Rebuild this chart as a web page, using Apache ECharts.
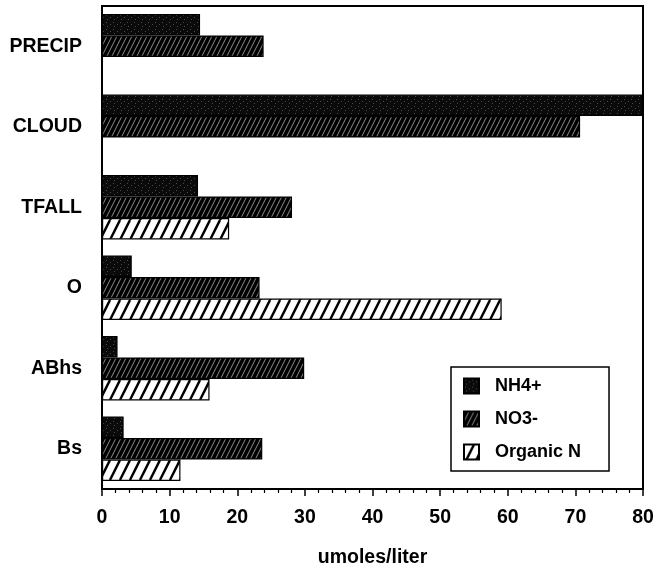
<!DOCTYPE html>
<html>
<head>
<meta charset="utf-8">
<script src="https://cdn.jsdelivr.net/npm/echarts@6/dist/echarts.min.js"></script>
<style>
html,body{margin:0;padding:0;background:#fff;}
#chart{width:661px;height:575px;}
</style>
</head>
<body>
<div id="chart"></div>
<script>
// ---- data ----
var categories = ['PRECIP', 'CLOUD', 'TFALL', 'O', 'ABhs', 'Bs'];
var seriesNames = ['NH4+', 'NO3-', 'Organic N'];
var nh4 = [14.5, 80, 14.2, 4.4, 2.3, 3.2];
var no3 = [23.9, 70.7, 28.1, 23.3, 29.9, 23.7];
var orgN = [null, null, 18.8, 59.1, 15.9, 11.6];
var xTicks = [0, 10, 20, 30, 40, 50, 60, 70, 80];
var xAxisTitle = 'umoles/liter';

// ---- fill patterns ----
function makeTile(w, h, draw) {
  var c = document.createElement('canvas');
  c.width = w; c.height = h;
  draw(c.getContext('2d'), w, h);
  return c;
}
var nh4Tile = makeTile(7, 7, function (g, w, h) {
  g.fillStyle = '#0a0a0a'; g.fillRect(0, 0, w, h);
  g.fillStyle = '#4a4a4a';
  g.fillRect(1, 1, 1, 1); g.fillRect(5, 3, 1, 1); g.fillRect(2, 5, 1, 1);
});
var no3Tile = makeTile(5, 10, function (g, w, h) {
  g.fillStyle = '#000'; g.fillRect(0, 0, w, h);
  g.strokeStyle = '#b0b0b0'; g.lineWidth = 0.8;
  [-w, 0, w].forEach(function (x0) {
    g.beginPath(); g.moveTo(x0, h); g.lineTo(x0 + w, 0); g.stroke();
  });
});
var orgTile = makeTile(10, 20, function (g, w, h) {
  g.fillStyle = '#fff'; g.fillRect(0, 0, w, h);
  g.strokeStyle = '#000'; g.lineWidth = 2.4;
  [-w, 0, w].forEach(function (x0) {
    g.beginPath(); g.moveTo(x0, h); g.lineTo(x0 + w, 0); g.stroke();
  });
});
function pat(tile) { return { image: tile, repeat: 'repeat' }; }

var font = 'Liberation Sans';
var chart = echarts.init(document.getElementById('chart'), null, { renderer: 'canvas' });
function barSeries(name, data, tile) {
  return {
    name: name, type: 'bar', data: data,
    barGap: '0%', barCategoryGap: '20%',
    itemStyle: { color: pat(tile), borderColor: '#000', borderWidth: 1.2 },
    emphasis: { disabled: true },
    animation: false
  };
}
chart.setOption({
  animation: false,
  grid: { left: 102, right: 18, top: 6, bottom: 86, show: true, borderColor: '#000', borderWidth: 2, containLabel: false },
  legend: {
    orient: 'vertical', left: 451, top: 367,
    padding: [10, 28, 10, 12],
    itemWidth: 15, itemHeight: 15, itemGap: 15,
    borderColor: '#000', borderWidth: 1.5, backgroundColor: '#fff',
    icon: 'rect',
    data: seriesNames,
    textStyle: { fontFamily: font, fontWeight: 'bold', fontSize: 18, color: '#000', padding: [0, 0, 0, 11] }
  },
  xAxis: {
    type: 'value', min: xTicks[0], max: xTicks[xTicks.length - 1], interval: xTicks[1] - xTicks[0],
    name: xAxisTitle, nameLocation: 'middle', nameGap: 59,
    nameTextStyle: { fontFamily: font, fontWeight: 'bold', fontSize: 19.5, color: '#000' },
    axisLine: { show: true, lineStyle: { color: '#000', width: 2 } },
    axisTick: { show: true, length: 7, lineStyle: { color: '#000', width: 1.5 } },
    minorTick: { show: true, splitNumber: 5, length: 4, lineStyle: { color: '#000', width: 1.2 } },
    splitLine: { show: false },
    axisLabel: { fontFamily: font, fontWeight: 'bold', fontSize: 19.5, color: '#000', margin: 19 }
  },
  yAxis: {
    type: 'category', data: categories, inverse: true,
    axisLine: { show: true, lineStyle: { color: '#000', width: 2 } },
    axisTick: { show: false },
    axisLabel: { fontFamily: font, fontWeight: 'bold', fontSize: 19.5, color: '#000', margin: 20 }
  },
  series: [
    barSeries(seriesNames[0], nh4, nh4Tile),
    barSeries(seriesNames[1], no3, no3Tile),
    barSeries(seriesNames[2], orgN, orgTile)
  ]
});
</script>
</body>
</html>
